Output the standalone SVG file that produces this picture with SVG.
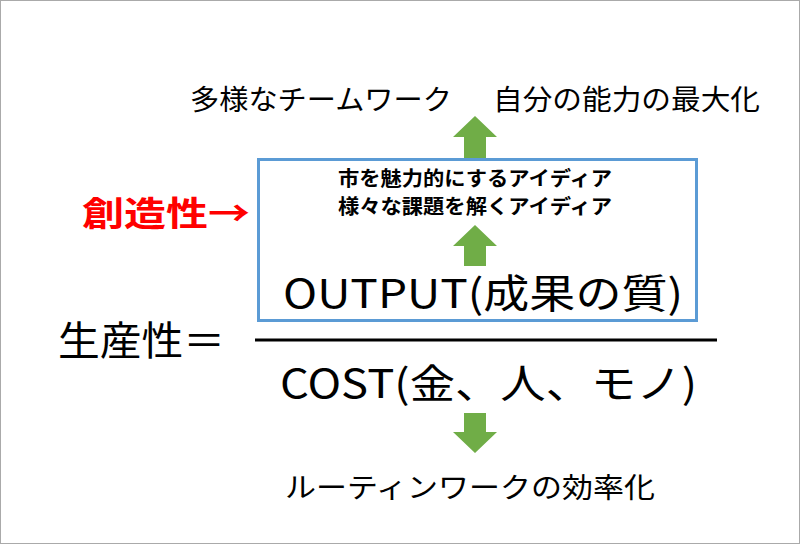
<svg xmlns="http://www.w3.org/2000/svg" width="800" height="544" viewBox="0 0 800 544">
<style>
text{font-family:"Noto Sans CJK JP","Noto Sans",sans-serif;fill:#000}
.m{text-anchor:middle}
.ar{fill:#70AD47}
</style>
<rect x="0.5" y="0.5" width="799" height="543" fill="#fff" stroke="#aaa"/>
<g id="box"><rect x="258.5" y="159.5" width="438" height="161" fill="none" stroke="#5B9BD5" stroke-width="3"/>
<text x="338" y="186" font-size="20" font-weight="bold" textLength="274" lengthAdjust="spacingAndGlyphs">市を魅力的にするアイディア</text>
<text x="338" y="214" font-size="20" font-weight="bold" textLength="274" lengthAdjust="spacingAndGlyphs">様々な課題を解くアイディア</text>
<text x="283" y="308" font-size="40" textLength="400" lengthAdjust="spacingAndGlyphs">OUTPUT(成果の質)</text></g>
<g id="top-labels">
<text x="190" y="110" font-size="28" textLength="262" lengthAdjust="spacingAndGlyphs">多様なチームワーク</text>
<text x="493" y="110" font-size="28" textLength="267" lengthAdjust="spacingAndGlyphs">自分の能力の最大化</text></g>
<g id="creativity"><text x="82" y="226" font-size="34" font-weight="bold" textLength="168" lengthAdjust="spacingAndGlyphs" style="fill:#FF0000">創造性→</text></g>
<g id="productivity"><text x="58" y="355" font-size="40" textLength="167" lengthAdjust="spacingAndGlyphs">生産性＝</text></g>
<g id="cost"><text x="280" y="398" font-size="40" textLength="417" lengthAdjust="spacingAndGlyphs">COST(金、人、モノ)</text></g>
<g id="bottom-label"><text x="285" y="498" font-size="28" textLength="370" lengthAdjust="spacingAndGlyphs">ルーティンワークの効率化</text></g>
<g id="connectors">
<line x1="255" y1="340" x2="717" y2="340" stroke="#000" stroke-width="3"/>
<polygon class="ar" points="475,116 497,137 486,137 486,158 464,158 464,137 453,137"/>
<polygon class="ar" points="475,225 497,246 486,246 486,266 464,266 464,246 453,246"/>
<polygon class="ar" points="475,453 497,432 486,432 486,413 464,413 464,432 453,432"/>
</g>
</svg>
